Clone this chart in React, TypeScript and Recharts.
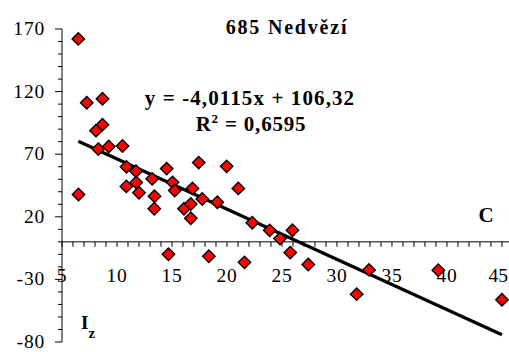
import React from "react";
import { ScatterChart, Scatter, XAxis, YAxis, ReferenceLine, ReferenceDot } from "recharts";

// measured points (x = C, y = Iz)
const X_VALUES = [
  6.48, 7.25, 8.68, 8.68, 8.09, 8.3, 9.25, 10.5, 10.86, 11.73, 6.5, 10.85, 11.75, 12.0,
  13.2, 13.41, 13.39, 14.52, 15.05, 15.25, 16.09, 16.71, 16.71, 16.86, 14.68, 17.43, 19.97,
  17.75, 19.12, 21.03, 18.35, 21.59, 22.3, 23.88, 24.82, 25.95, 25.75, 27.39, 31.79, 32.91,
  39.21, 45.0,
];
const Y_VALUES = [
  162.1, 111.1, 114.3, 93.6, 88.8, 74.1, 76.2, 76.5, 59.9, 56.4, 37.8, 44.3, 47.4, 39.2,
  50.3, 36.4, 26.4, 58.5, 47.5, 41.0, 26.4, 30.2, 18.8, 42.7, -9.9, 63.3, 60.3,
  34.2, 31.6, 42.7, -11.5, -16.4, 15.2, 9.2, 2.6, 9.3, -8.6, -18.1, -41.8, -22.4,
  -22.6, -46.3,
];

const Y_TICKS = [-80, -70, -60, -50, -40, -30, -20, -10, 0, 10, 20, 30, 40, 50, 60, 70, 80, 90, 100, 110, 120, 130, 140, 150, 160, 170];
const Y_LABELS = [-80, -30, 20, 70, 120, 170];
const X_TICKS = [5, 6, 7, 8, 9, 10, 11, 12, 13, 14, 15, 16, 17, 18, 19, 20, 21, 22, 23, 24, 25, 26, 27, 28, 29, 30, 31, 32, 33, 34, 35, 36, 37, 38, 39, 40, 41, 42, 43, 44, 45];
const X_LABELS = [5, 10, 15, 20, 25, 30, 35, 40, 45];

const TREND_SLOPE = -4.0115;
const TREND_INTERCEPT = 106.32;

const data = X_VALUES.map((x, i) => ({ x, y: Y_VALUES[i] }));
const xMin = Math.min(...X_VALUES);
const xMax = Math.max(...X_VALUES);

const FONT = "'Liberation Serif', 'Times New Roman', serif";

function Diamond(props: any) {
  const { cx, cy } = props;
  const s = 6.2;
  return (
    <polygon
      points={`${cx},${cy - s} ${cx + s},${cy} ${cx},${cy + s} ${cx - s},${cy}`}
      fill="#ff0000"
      stroke="#000"
      strokeWidth={1.4}
    />
  );
}

function YTick(props: any) {
  const { x, y, payload } = props;
  const major = Y_LABELS.includes(payload.value);
  return (
    <g>
      <line x1={x - (major ? 7 : 4)} y1={y} x2={x} y2={y} stroke="#000" strokeWidth={1} />
      {major && (
        <text x={x - 17} y={y + 6} textAnchor="end" style={{ fontFamily: FONT }} fontSize={19.5} letterSpacing={0.8} fill="#000">
          {payload.value}
        </text>
      )}
    </g>
  );
}

function XTick({ cx, cy, value }: any) {
  const major = X_LABELS.includes(value);
  const last = value === X_LABELS[X_LABELS.length - 1];
  return (
    <g>
      <line x1={cx} y1={cy} x2={cx} y2={cy + 5} stroke="#000" strokeWidth={1} />
      {major && (
        <text
          x={last ? cx + 6 : cx}
          y={cy + 40}
          textAnchor={last ? "end" : "middle"}
          style={{ fontFamily: FONT }}
          fontSize={19.5}
          letterSpacing={last ? 0 : 0.8}
          fill="#000"
        >
          {value}
        </text>
      )}
    </g>
  );
}

export default function App() {
  return (
    <div style={{ position: "absolute", left: 0, top: 0, width: 509, height: 352, background: "#fff" }}>
      <ScatterChart width={509} height={352} margin={{ top: 29, right: 0, bottom: 10, left: 0 }}>
        <XAxis type="number" dataKey="x" domain={[5, 45.64]} hide allowDataOverflow />
        <YAxis
          type="number"
          dataKey="y"
          domain={[-80, 170]}
          ticks={Y_TICKS}
          interval={0}
          width={62}
          tickSize={0}
          tickMargin={0}
          tickLine={false}
          axisLine={{ stroke: "#000", strokeWidth: 1 }}
          tick={<YTick />}
          allowDataOverflow
        />
        <ReferenceLine y={0} stroke="#000" strokeWidth={1} />
        {X_TICKS.map((v) => (
          <ReferenceDot key={v} x={v} y={0} r={0} shape={(p: any) => <XTick {...p} value={v} />} />
        ))}
        <Scatter data={data} shape={<Diamond />} isAnimationActive={false} />
        <ReferenceLine
          segment={[
            { x: xMin, y: TREND_SLOPE * xMin + TREND_INTERCEPT },
            { x: xMax, y: TREND_SLOPE * xMax + TREND_INTERCEPT },
          ]}
          stroke="#000"
          strokeWidth={3.2}
        />
      </ScatterChart>
      <svg width={509} height={352} style={{ position: "absolute", left: 0, top: 0, pointerEvents: "none", fontFamily: FONT }}>
        <g fontWeight="bold" fill="#000">
          <text x={287} y={34} textAnchor="middle" fontSize={20} letterSpacing={1.8}>685 Nedvězí</text>
          <text x={250} y={105} textAnchor="middle" fontSize={21} letterSpacing={1.1}>y = -4,0115x + 106,32</text>
          <text x={251} y={131} textAnchor="middle" fontSize={21} letterSpacing={0.8}>
            R<tspan fontSize={13} dy={-8}>2</tspan><tspan dy={8}> = 0,6595</tspan>
          </text>
          <text x={486} y={222} textAnchor="middle" fontSize={21}>C</text>
          <text x={81} y={329} fontSize={19}>
            I<tspan fontSize={15} dy={9}>z</tspan>
          </text>
        </g>
      </svg>
    </div>
  );
}
